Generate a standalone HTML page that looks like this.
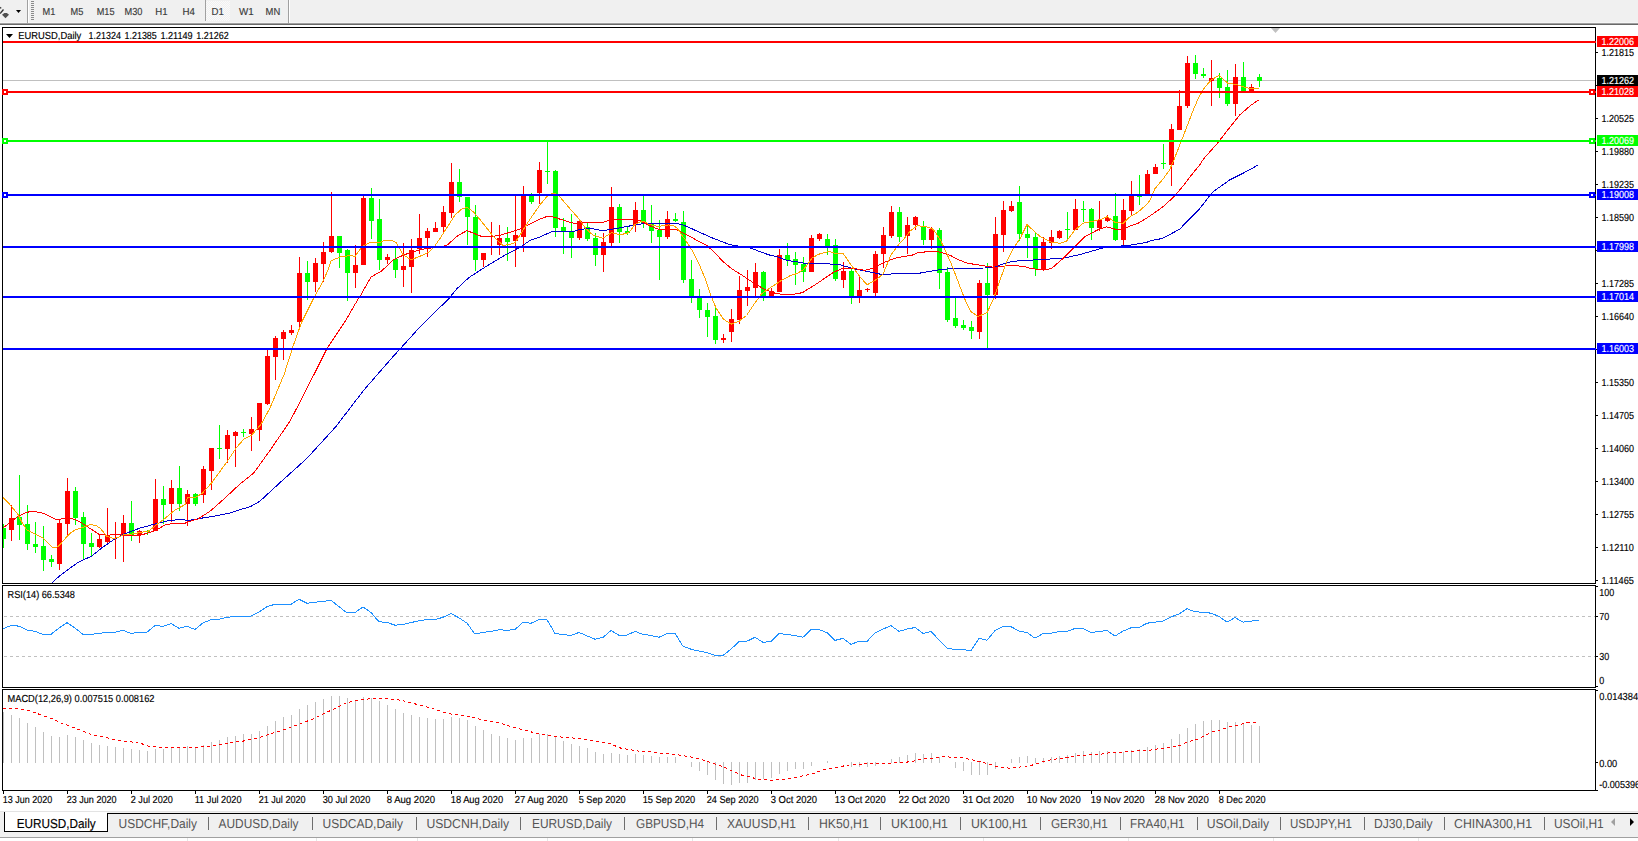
<!DOCTYPE html>
<html><head><meta charset="utf-8"><title>EURUSD,Daily</title>
<style>
html,body{margin:0;padding:0;background:#fff;overflow:hidden;}
svg{display:block;}
text{font-family:"Liberation Sans",sans-serif;text-rendering:geometricPrecision;}
</style></head><body>
<svg width="1638" height="841" viewBox="0 0 1638 841">
<rect width="1638" height="841" fill="#fff"/>
<rect x="0" y="0" width="1638" height="23" fill="#f0f0f0"/>
<rect x="0" y="22" width="1638" height="1" fill="#f6f6f6"/>
<rect x="0" y="23" width="1638" height="1" fill="#a0a0a0"/>
<rect x="0" y="24" width="1638" height="1" fill="#696969"/>
<path d="M0,6.8 L1.8,8 L0,8.8 Z" fill="#333"/>
<path d="M3,9 L4,10 L0.8,13.8 L0,13.8 L0,12.4 Z" fill="#333"/>
<path d="M4.3,13 L6.9,13 L9,14.8 L5.5,18.2 L2,14.8 Z" fill="#505050"/>
<path d="M16,10 L21,10 L18.5,13 Z" fill="#000"/>
<rect x="27" y="0" width="1" height="23" fill="#a0a0a0"/>
<rect x="28" y="0" width="1" height="23" fill="#ffffff"/>
<rect x="31" y="1" width="3" height="1" fill="#8a8a8a"/>
<rect x="31" y="3" width="3" height="1" fill="#8a8a8a"/>
<rect x="31" y="5" width="3" height="1" fill="#8a8a8a"/>
<rect x="31" y="7" width="3" height="1" fill="#8a8a8a"/>
<rect x="31" y="9" width="3" height="1" fill="#8a8a8a"/>
<rect x="31" y="11" width="3" height="1" fill="#8a8a8a"/>
<rect x="31" y="13" width="3" height="1" fill="#8a8a8a"/>
<rect x="31" y="15" width="3" height="1" fill="#8a8a8a"/>
<rect x="31" y="17" width="3" height="1" fill="#8a8a8a"/>
<rect x="31" y="19" width="3" height="1" fill="#8a8a8a"/>
<defs><pattern id="chk" width="2" height="2" patternUnits="userSpaceOnUse"><rect width="2" height="2" fill="#f0f0f0"/><rect width="1" height="1" fill="#fafafa"/><rect x="1" y="1" width="1" height="1" fill="#fafafa"/></pattern></defs>
<rect x="206" y="1" width="24" height="20" fill="url(#chk)"/>
<rect x="205" y="0" width="1" height="21" fill="#a0a0a0"/>
<rect x="288" y="0" width="1" height="23" fill="#a0a0a0"/>
<rect x="289" y="0" width="1" height="23" fill="#ffffff"/>
<text x="42.5" y="15" font-size="10.2" fill="#3a3a3a" stroke="#3a3a3a" stroke-width="0.15" textLength="12.8" lengthAdjust="spacingAndGlyphs">M1</text>
<text x="70.5" y="15" font-size="10.2" fill="#3a3a3a" stroke="#3a3a3a" stroke-width="0.15" textLength="12.8" lengthAdjust="spacingAndGlyphs">M5</text>
<text x="96.7" y="15" font-size="10.2" fill="#3a3a3a" stroke="#3a3a3a" stroke-width="0.15" textLength="17.8" lengthAdjust="spacingAndGlyphs">M15</text>
<text x="124.5" y="15" font-size="10.2" fill="#3a3a3a" stroke="#3a3a3a" stroke-width="0.15" textLength="18" lengthAdjust="spacingAndGlyphs">M30</text>
<text x="155.3" y="15" font-size="10.2" fill="#3a3a3a" stroke="#3a3a3a" stroke-width="0.15" textLength="12.3" lengthAdjust="spacingAndGlyphs">H1</text>
<text x="182.6" y="15" font-size="10.2" fill="#3a3a3a" stroke="#3a3a3a" stroke-width="0.15" textLength="12.4" lengthAdjust="spacingAndGlyphs">H4</text>
<text x="211.5" y="15" font-size="10.2" fill="#3a3a3a" stroke="#3a3a3a" stroke-width="0.15" textLength="12.3" lengthAdjust="spacingAndGlyphs">D1</text>
<text x="239" y="15" font-size="10.2" fill="#3a3a3a" stroke="#3a3a3a" stroke-width="0.15" textLength="14.7" lengthAdjust="spacingAndGlyphs">W1</text>
<text x="265.6" y="15" font-size="10.2" fill="#3a3a3a" stroke="#3a3a3a" stroke-width="0.15" textLength="14.6" lengthAdjust="spacingAndGlyphs">MN</text>
<g fill="none" stroke="#000" stroke-width="1" shape-rendering="crispEdges">
<rect x="2.5" y="27.5" width="1593" height="556"/>
<rect x="2.5" y="585.5" width="1593" height="102"/>
<rect x="2.5" y="689.5" width="1593" height="101"/>
</g>
<defs><clipPath id="cm"><rect x="3" y="28" width="1593" height="555"/></clipPath><clipPath id="cr"><rect x="3" y="586" width="1592" height="101"/></clipPath><clipPath id="cd"><rect x="3" y="690" width="1592" height="100"/></clipPath></defs>
<g clip-path="url(#cm)">
<rect x="3" y="80" width="1592" height="1" fill="#c0c0c0"/>
<g shape-rendering="crispEdges">
<rect x="3" y="524" width="1" height="24" fill="#00ff00"/>
<rect x="1" y="528" width="5" height="11" fill="#00ff00"/>
<rect x="11" y="505" width="1" height="36" fill="#ff0000"/>
<rect x="9" y="518" width="5" height="12" fill="#ff0000"/>
<rect x="19" y="475" width="1" height="65" fill="#00ff00"/>
<rect x="17" y="517" width="5" height="8" fill="#00ff00"/>
<rect x="27" y="505" width="1" height="45" fill="#00ff00"/>
<rect x="25" y="524" width="5" height="20" fill="#00ff00"/>
<rect x="35" y="522" width="1" height="31" fill="#00ff00"/>
<rect x="33" y="544" width="5" height="3" fill="#00ff00"/>
<rect x="43" y="526" width="1" height="45" fill="#00ff00"/>
<rect x="41" y="546" width="5" height="14" fill="#00ff00"/>
<rect x="51" y="555" width="1" height="12" fill="#00ff00"/>
<rect x="49" y="559" width="5" height="3" fill="#00ff00"/>
<rect x="59" y="519" width="1" height="51" fill="#ff0000"/>
<rect x="57" y="523" width="5" height="41" fill="#ff0000"/>
<rect x="67" y="478" width="1" height="58" fill="#ff0000"/>
<rect x="65" y="491" width="5" height="33" fill="#ff0000"/>
<rect x="75" y="487" width="1" height="38" fill="#00ff00"/>
<rect x="73" y="491" width="5" height="27" fill="#00ff00"/>
<rect x="83" y="512" width="1" height="47" fill="#00ff00"/>
<rect x="81" y="517" width="5" height="27" fill="#00ff00"/>
<rect x="91" y="533" width="1" height="23" fill="#00ff00"/>
<rect x="89" y="543" width="5" height="4" fill="#00ff00"/>
<rect x="99" y="534" width="1" height="14" fill="#ff0000"/>
<rect x="97" y="539" width="5" height="8" fill="#ff0000"/>
<rect x="107" y="508" width="1" height="35" fill="#ff0000"/>
<rect x="105" y="535" width="5" height="7" fill="#ff0000"/>
<rect x="115" y="522" width="1" height="37" fill="#ff0000"/>
<rect x="113" y="534" width="5" height="1" fill="#ff0000"/>
<rect x="123" y="515" width="1" height="47" fill="#ff0000"/>
<rect x="121" y="523" width="5" height="12" fill="#ff0000"/>
<rect x="131" y="501" width="1" height="40" fill="#00ff00"/>
<rect x="129" y="523" width="5" height="12" fill="#00ff00"/>
<rect x="139" y="530" width="1" height="13" fill="#ff0000"/>
<rect x="137" y="531" width="5" height="4" fill="#ff0000"/>
<rect x="147" y="530" width="1" height="5" fill="#00ff00"/>
<rect x="145" y="531" width="5" height="1" fill="#00ff00"/>
<rect x="155" y="479" width="1" height="52" fill="#ff0000"/>
<rect x="153" y="499" width="5" height="32" fill="#ff0000"/>
<rect x="163" y="486" width="1" height="38" fill="#00ff00"/>
<rect x="161" y="499" width="5" height="6" fill="#00ff00"/>
<rect x="171" y="480" width="1" height="42" fill="#ff0000"/>
<rect x="169" y="488" width="5" height="16" fill="#ff0000"/>
<rect x="179" y="466" width="1" height="45" fill="#00ff00"/>
<rect x="177" y="488" width="5" height="16" fill="#00ff00"/>
<rect x="187" y="490" width="1" height="36" fill="#ff0000"/>
<rect x="185" y="494" width="5" height="10" fill="#ff0000"/>
<rect x="195" y="493" width="1" height="13" fill="#00ff00"/>
<rect x="193" y="494" width="5" height="10" fill="#00ff00"/>
<rect x="203" y="466" width="1" height="37" fill="#ff0000"/>
<rect x="201" y="469" width="5" height="26" fill="#ff0000"/>
<rect x="211" y="448" width="1" height="42" fill="#ff0000"/>
<rect x="209" y="448" width="5" height="23" fill="#ff0000"/>
<rect x="219" y="425" width="1" height="34" fill="#00ff00"/>
<rect x="217" y="448" width="5" height="1" fill="#00ff00"/>
<rect x="227" y="430" width="1" height="33" fill="#ff0000"/>
<rect x="225" y="435" width="5" height="14" fill="#ff0000"/>
<rect x="235" y="431" width="1" height="36" fill="#ff0000"/>
<rect x="233" y="432" width="5" height="4" fill="#ff0000"/>
<rect x="243" y="429" width="1" height="8" fill="#00ff00"/>
<rect x="241" y="432" width="5" height="1" fill="#00ff00"/>
<rect x="251" y="417" width="1" height="34" fill="#ff0000"/>
<rect x="249" y="429" width="5" height="5" fill="#ff0000"/>
<rect x="259" y="403" width="1" height="38" fill="#ff0000"/>
<rect x="257" y="403" width="5" height="27" fill="#ff0000"/>
<rect x="267" y="350" width="1" height="55" fill="#ff0000"/>
<rect x="265" y="356" width="5" height="48" fill="#ff0000"/>
<rect x="275" y="336" width="1" height="44" fill="#ff0000"/>
<rect x="273" y="338" width="5" height="19" fill="#ff0000"/>
<rect x="283" y="330" width="1" height="30" fill="#ff0000"/>
<rect x="281" y="332" width="5" height="7" fill="#ff0000"/>
<rect x="291" y="325" width="1" height="10" fill="#ff0000"/>
<rect x="289" y="330" width="5" height="3" fill="#ff0000"/>
<rect x="299" y="257" width="1" height="71" fill="#ff0000"/>
<rect x="297" y="273" width="5" height="49" fill="#ff0000"/>
<rect x="307" y="261" width="1" height="39" fill="#00ff00"/>
<rect x="305" y="273" width="5" height="9" fill="#00ff00"/>
<rect x="315" y="258" width="1" height="34" fill="#ff0000"/>
<rect x="313" y="263" width="5" height="19" fill="#ff0000"/>
<rect x="323" y="242" width="1" height="40" fill="#ff0000"/>
<rect x="321" y="252" width="5" height="12" fill="#ff0000"/>
<rect x="331" y="192" width="1" height="61" fill="#ff0000"/>
<rect x="329" y="236" width="5" height="16" fill="#ff0000"/>
<rect x="339" y="236" width="1" height="32" fill="#00ff00"/>
<rect x="337" y="236" width="5" height="17" fill="#00ff00"/>
<rect x="347" y="249" width="1" height="52" fill="#00ff00"/>
<rect x="345" y="250" width="5" height="23" fill="#00ff00"/>
<rect x="355" y="245" width="1" height="43" fill="#ff0000"/>
<rect x="353" y="265" width="5" height="8" fill="#ff0000"/>
<rect x="363" y="196" width="1" height="69" fill="#ff0000"/>
<rect x="361" y="198" width="5" height="67" fill="#ff0000"/>
<rect x="371" y="188" width="1" height="51" fill="#00ff00"/>
<rect x="369" y="198" width="5" height="23" fill="#00ff00"/>
<rect x="379" y="199" width="1" height="71" fill="#00ff00"/>
<rect x="377" y="219" width="5" height="41" fill="#00ff00"/>
<rect x="387" y="254" width="1" height="10" fill="#ff0000"/>
<rect x="385" y="257" width="5" height="3" fill="#ff0000"/>
<rect x="395" y="247" width="1" height="31" fill="#00ff00"/>
<rect x="393" y="259" width="5" height="11" fill="#00ff00"/>
<rect x="403" y="243" width="1" height="44" fill="#ff0000"/>
<rect x="401" y="266" width="5" height="4" fill="#ff0000"/>
<rect x="411" y="239" width="1" height="54" fill="#ff0000"/>
<rect x="409" y="250" width="5" height="17" fill="#ff0000"/>
<rect x="419" y="214" width="1" height="40" fill="#ff0000"/>
<rect x="417" y="238" width="5" height="11" fill="#ff0000"/>
<rect x="427" y="228" width="1" height="29" fill="#ff0000"/>
<rect x="425" y="231" width="5" height="7" fill="#ff0000"/>
<rect x="435" y="222" width="1" height="10" fill="#ff0000"/>
<rect x="433" y="228" width="5" height="4" fill="#ff0000"/>
<rect x="443" y="206" width="1" height="27" fill="#ff0000"/>
<rect x="441" y="212" width="5" height="15" fill="#ff0000"/>
<rect x="451" y="163" width="1" height="55" fill="#ff0000"/>
<rect x="449" y="182" width="5" height="31" fill="#ff0000"/>
<rect x="459" y="169" width="1" height="33" fill="#00ff00"/>
<rect x="457" y="182" width="5" height="15" fill="#00ff00"/>
<rect x="467" y="197" width="1" height="48" fill="#00ff00"/>
<rect x="465" y="197" width="5" height="20" fill="#00ff00"/>
<rect x="475" y="205" width="1" height="66" fill="#00ff00"/>
<rect x="473" y="217" width="5" height="43" fill="#00ff00"/>
<rect x="483" y="253" width="1" height="14" fill="#ff0000"/>
<rect x="481" y="253" width="5" height="7" fill="#ff0000"/>
<rect x="491" y="222" width="1" height="33" fill="#ff0000"/>
<rect x="489" y="236" width="5" height="1" fill="#ff0000"/>
<rect x="499" y="225" width="1" height="30" fill="#ff0000"/>
<rect x="497" y="238" width="5" height="7" fill="#ff0000"/>
<rect x="507" y="227" width="1" height="34" fill="#00ff00"/>
<rect x="505" y="238" width="5" height="4" fill="#00ff00"/>
<rect x="515" y="195" width="1" height="72" fill="#ff0000"/>
<rect x="513" y="235" width="5" height="6" fill="#ff0000"/>
<rect x="523" y="186" width="1" height="66" fill="#ff0000"/>
<rect x="521" y="196" width="5" height="41" fill="#ff0000"/>
<rect x="531" y="193" width="1" height="11" fill="#00ff00"/>
<rect x="529" y="196" width="5" height="6" fill="#00ff00"/>
<rect x="539" y="162" width="1" height="42" fill="#ff0000"/>
<rect x="537" y="170" width="5" height="23" fill="#ff0000"/>
<rect x="547" y="141" width="1" height="43" fill="#00ff00"/>
<rect x="545" y="171" width="5" height="1" fill="#00ff00"/>
<rect x="555" y="170" width="1" height="67" fill="#00ff00"/>
<rect x="553" y="171" width="5" height="57" fill="#00ff00"/>
<rect x="563" y="218" width="1" height="36" fill="#00ff00"/>
<rect x="561" y="227" width="5" height="5" fill="#00ff00"/>
<rect x="571" y="214" width="1" height="44" fill="#00ff00"/>
<rect x="569" y="232" width="5" height="6" fill="#00ff00"/>
<rect x="579" y="219" width="1" height="21" fill="#ff0000"/>
<rect x="577" y="221" width="5" height="17" fill="#ff0000"/>
<rect x="587" y="223" width="1" height="18" fill="#00ff00"/>
<rect x="585" y="227" width="5" height="12" fill="#00ff00"/>
<rect x="595" y="233" width="1" height="33" fill="#00ff00"/>
<rect x="593" y="238" width="5" height="17" fill="#00ff00"/>
<rect x="603" y="233" width="1" height="39" fill="#ff0000"/>
<rect x="601" y="242" width="5" height="13" fill="#ff0000"/>
<rect x="611" y="187" width="1" height="61" fill="#ff0000"/>
<rect x="609" y="207" width="5" height="36" fill="#ff0000"/>
<rect x="619" y="204" width="1" height="39" fill="#00ff00"/>
<rect x="617" y="207" width="5" height="25" fill="#00ff00"/>
<rect x="627" y="226" width="1" height="9" fill="#00ff00"/>
<rect x="625" y="231" width="5" height="2" fill="#00ff00"/>
<rect x="635" y="202" width="1" height="30" fill="#ff0000"/>
<rect x="633" y="210" width="5" height="15" fill="#ff0000"/>
<rect x="643" y="196" width="1" height="32" fill="#00ff00"/>
<rect x="641" y="210" width="5" height="14" fill="#00ff00"/>
<rect x="651" y="205" width="1" height="38" fill="#00ff00"/>
<rect x="649" y="224" width="5" height="7" fill="#00ff00"/>
<rect x="659" y="220" width="1" height="60" fill="#00ff00"/>
<rect x="657" y="230" width="5" height="7" fill="#00ff00"/>
<rect x="667" y="211" width="1" height="28" fill="#ff0000"/>
<rect x="665" y="219" width="5" height="18" fill="#ff0000"/>
<rect x="675" y="213" width="1" height="9" fill="#00ff00"/>
<rect x="673" y="219" width="5" height="2" fill="#00ff00"/>
<rect x="683" y="211" width="1" height="72" fill="#00ff00"/>
<rect x="681" y="222" width="5" height="58" fill="#00ff00"/>
<rect x="691" y="260" width="1" height="43" fill="#00ff00"/>
<rect x="689" y="279" width="5" height="17" fill="#00ff00"/>
<rect x="699" y="289" width="1" height="29" fill="#00ff00"/>
<rect x="697" y="298" width="5" height="12" fill="#00ff00"/>
<rect x="707" y="303" width="1" height="34" fill="#00ff00"/>
<rect x="705" y="310" width="5" height="7" fill="#00ff00"/>
<rect x="715" y="305" width="1" height="39" fill="#00ff00"/>
<rect x="713" y="316" width="5" height="24" fill="#00ff00"/>
<rect x="723" y="334" width="1" height="9" fill="#ff0000"/>
<rect x="721" y="338" width="5" height="2" fill="#ff0000"/>
<rect x="731" y="309" width="1" height="33" fill="#ff0000"/>
<rect x="729" y="319" width="5" height="13" fill="#ff0000"/>
<rect x="739" y="276" width="1" height="48" fill="#ff0000"/>
<rect x="737" y="290" width="5" height="30" fill="#ff0000"/>
<rect x="747" y="270" width="1" height="36" fill="#ff0000"/>
<rect x="745" y="287" width="5" height="4" fill="#ff0000"/>
<rect x="755" y="263" width="1" height="33" fill="#ff0000"/>
<rect x="753" y="272" width="5" height="16" fill="#ff0000"/>
<rect x="763" y="271" width="1" height="30" fill="#00ff00"/>
<rect x="761" y="272" width="5" height="24" fill="#00ff00"/>
<rect x="771" y="288" width="1" height="8" fill="#ff0000"/>
<rect x="769" y="291" width="5" height="5" fill="#ff0000"/>
<rect x="779" y="249" width="1" height="43" fill="#ff0000"/>
<rect x="777" y="255" width="5" height="37" fill="#ff0000"/>
<rect x="787" y="243" width="1" height="23" fill="#00ff00"/>
<rect x="785" y="255" width="5" height="5" fill="#00ff00"/>
<rect x="795" y="252" width="1" height="33" fill="#00ff00"/>
<rect x="793" y="259" width="5" height="6" fill="#00ff00"/>
<rect x="803" y="257" width="1" height="25" fill="#00ff00"/>
<rect x="801" y="264" width="5" height="8" fill="#00ff00"/>
<rect x="811" y="235" width="1" height="37" fill="#ff0000"/>
<rect x="809" y="238" width="5" height="34" fill="#ff0000"/>
<rect x="819" y="233" width="1" height="8" fill="#ff0000"/>
<rect x="817" y="234" width="5" height="5" fill="#ff0000"/>
<rect x="827" y="234" width="1" height="21" fill="#00ff00"/>
<rect x="825" y="239" width="5" height="7" fill="#00ff00"/>
<rect x="835" y="239" width="1" height="42" fill="#00ff00"/>
<rect x="833" y="245" width="5" height="34" fill="#00ff00"/>
<rect x="843" y="262" width="1" height="26" fill="#ff0000"/>
<rect x="841" y="271" width="5" height="9" fill="#ff0000"/>
<rect x="851" y="269" width="1" height="35" fill="#00ff00"/>
<rect x="849" y="271" width="5" height="27" fill="#00ff00"/>
<rect x="859" y="275" width="1" height="28" fill="#ff0000"/>
<rect x="857" y="290" width="5" height="8" fill="#ff0000"/>
<rect x="867" y="288" width="1" height="4" fill="#ff0000"/>
<rect x="865" y="289" width="5" height="1" fill="#ff0000"/>
<rect x="875" y="251" width="1" height="45" fill="#ff0000"/>
<rect x="873" y="254" width="5" height="39" fill="#ff0000"/>
<rect x="883" y="227" width="1" height="41" fill="#ff0000"/>
<rect x="881" y="235" width="5" height="19" fill="#ff0000"/>
<rect x="891" y="206" width="1" height="32" fill="#ff0000"/>
<rect x="889" y="212" width="5" height="24" fill="#ff0000"/>
<rect x="899" y="207" width="1" height="35" fill="#00ff00"/>
<rect x="897" y="212" width="5" height="25" fill="#00ff00"/>
<rect x="907" y="217" width="1" height="37" fill="#ff0000"/>
<rect x="905" y="225" width="5" height="11" fill="#ff0000"/>
<rect x="915" y="216" width="1" height="14" fill="#ff0000"/>
<rect x="913" y="217" width="5" height="8" fill="#ff0000"/>
<rect x="923" y="221" width="1" height="24" fill="#00ff00"/>
<rect x="921" y="227" width="5" height="13" fill="#00ff00"/>
<rect x="931" y="227" width="1" height="22" fill="#ff0000"/>
<rect x="929" y="229" width="5" height="11" fill="#ff0000"/>
<rect x="939" y="228" width="1" height="61" fill="#00ff00"/>
<rect x="937" y="230" width="5" height="43" fill="#00ff00"/>
<rect x="947" y="267" width="1" height="55" fill="#00ff00"/>
<rect x="945" y="272" width="5" height="48" fill="#00ff00"/>
<rect x="955" y="298" width="1" height="30" fill="#00ff00"/>
<rect x="953" y="318" width="5" height="8" fill="#00ff00"/>
<rect x="963" y="320" width="1" height="10" fill="#00ff00"/>
<rect x="961" y="325" width="5" height="3" fill="#00ff00"/>
<rect x="971" y="321" width="1" height="18" fill="#00ff00"/>
<rect x="969" y="327" width="5" height="4" fill="#00ff00"/>
<rect x="979" y="280" width="1" height="59" fill="#ff0000"/>
<rect x="977" y="283" width="5" height="49" fill="#ff0000"/>
<rect x="987" y="263" width="1" height="86" fill="#00ff00"/>
<rect x="985" y="283" width="5" height="12" fill="#00ff00"/>
<rect x="995" y="217" width="1" height="82" fill="#ff0000"/>
<rect x="993" y="234" width="5" height="61" fill="#ff0000"/>
<rect x="1003" y="201" width="1" height="51" fill="#ff0000"/>
<rect x="1001" y="210" width="5" height="25" fill="#ff0000"/>
<rect x="1011" y="201" width="1" height="11" fill="#ff0000"/>
<rect x="1009" y="206" width="5" height="5" fill="#ff0000"/>
<rect x="1019" y="186" width="1" height="55" fill="#00ff00"/>
<rect x="1017" y="202" width="5" height="32" fill="#00ff00"/>
<rect x="1027" y="224" width="1" height="34" fill="#00ff00"/>
<rect x="1025" y="234" width="5" height="4" fill="#00ff00"/>
<rect x="1035" y="232" width="1" height="44" fill="#00ff00"/>
<rect x="1033" y="237" width="5" height="32" fill="#00ff00"/>
<rect x="1043" y="237" width="1" height="34" fill="#ff0000"/>
<rect x="1041" y="242" width="5" height="28" fill="#ff0000"/>
<rect x="1051" y="230" width="1" height="19" fill="#ff0000"/>
<rect x="1049" y="237" width="5" height="6" fill="#ff0000"/>
<rect x="1059" y="230" width="1" height="9" fill="#ff0000"/>
<rect x="1057" y="231" width="5" height="7" fill="#ff0000"/>
<rect x="1067" y="212" width="1" height="29" fill="#00ff00"/>
<rect x="1065" y="229" width="5" height="1" fill="#00ff00"/>
<rect x="1075" y="199" width="1" height="31" fill="#ff0000"/>
<rect x="1073" y="209" width="5" height="21" fill="#ff0000"/>
<rect x="1083" y="201" width="1" height="21" fill="#00ff00"/>
<rect x="1081" y="209" width="5" height="1" fill="#00ff00"/>
<rect x="1091" y="208" width="1" height="32" fill="#00ff00"/>
<rect x="1089" y="209" width="5" height="19" fill="#00ff00"/>
<rect x="1099" y="201" width="1" height="30" fill="#ff0000"/>
<rect x="1097" y="220" width="5" height="8" fill="#ff0000"/>
<rect x="1107" y="215" width="1" height="7" fill="#ff0000"/>
<rect x="1105" y="218" width="5" height="3" fill="#ff0000"/>
<rect x="1115" y="193" width="1" height="48" fill="#00ff00"/>
<rect x="1113" y="216" width="5" height="24" fill="#00ff00"/>
<rect x="1123" y="199" width="1" height="47" fill="#ff0000"/>
<rect x="1121" y="210" width="5" height="30" fill="#ff0000"/>
<rect x="1131" y="181" width="1" height="34" fill="#ff0000"/>
<rect x="1129" y="196" width="5" height="15" fill="#ff0000"/>
<rect x="1139" y="175" width="1" height="30" fill="#00ff00"/>
<rect x="1137" y="196" width="5" height="1" fill="#00ff00"/>
<rect x="1147" y="170" width="1" height="24" fill="#ff0000"/>
<rect x="1145" y="174" width="5" height="20" fill="#ff0000"/>
<rect x="1155" y="164" width="1" height="10" fill="#ff0000"/>
<rect x="1153" y="167" width="5" height="7" fill="#ff0000"/>
<rect x="1163" y="144" width="1" height="25" fill="#00ff00"/>
<rect x="1161" y="163" width="5" height="1" fill="#00ff00"/>
<rect x="1171" y="124" width="1" height="62" fill="#ff0000"/>
<rect x="1169" y="129" width="5" height="36" fill="#ff0000"/>
<rect x="1179" y="90" width="1" height="40" fill="#ff0000"/>
<rect x="1177" y="106" width="5" height="24" fill="#ff0000"/>
<rect x="1187" y="56" width="1" height="52" fill="#ff0000"/>
<rect x="1185" y="63" width="5" height="43" fill="#ff0000"/>
<rect x="1195" y="55" width="1" height="24" fill="#00ff00"/>
<rect x="1193" y="63" width="5" height="11" fill="#00ff00"/>
<rect x="1203" y="68" width="1" height="10" fill="#00ff00"/>
<rect x="1201" y="74" width="5" height="2" fill="#00ff00"/>
<rect x="1211" y="60" width="1" height="46" fill="#ff0000"/>
<rect x="1209" y="78" width="5" height="3" fill="#ff0000"/>
<rect x="1219" y="73" width="1" height="25" fill="#00ff00"/>
<rect x="1217" y="78" width="5" height="10" fill="#00ff00"/>
<rect x="1227" y="70" width="1" height="36" fill="#00ff00"/>
<rect x="1225" y="87" width="5" height="17" fill="#00ff00"/>
<rect x="1235" y="64" width="1" height="52" fill="#ff0000"/>
<rect x="1233" y="77" width="5" height="27" fill="#ff0000"/>
<rect x="1243" y="62" width="1" height="29" fill="#00ff00"/>
<rect x="1241" y="77" width="5" height="14" fill="#00ff00"/>
<rect x="1251" y="84" width="1" height="7" fill="#ff0000"/>
<rect x="1249" y="87" width="5" height="4" fill="#ff0000"/>
<rect x="1259" y="74" width="1" height="13" fill="#00ff00"/>
<rect x="1257" y="77" width="5" height="4" fill="#00ff00"/>
</g>
<g shape-rendering="crispEdges">
<polyline points="45.0,590.0 55.0,580.0 60.0,575.6 69.5,568.5 79.0,561.8 91.4,556.3 102.8,547.1 113.3,540.0 122.8,534.7 132.3,530.9 140.0,528.1 155.0,524.0 170.0,520.3 180.0,519.7 190.0,520.3 200.0,518.4 215.0,516.0 230.0,513.0 242.0,509.0 250.0,506.8 260.0,501.1 278.5,484.0 307.0,458.3 335.6,426.9 364.1,389.8 392.7,357.0 421.2,325.6 437.0,310.0 447.7,300.0 456.6,289.0 469.0,277.5 487.0,265.9 504.9,255.2 520.0,247.2 530.0,240.5 540.0,236.9 552.0,231.6 560.0,231.7 574.3,231.1 581.4,229.2 591.4,228.5 602.8,230.7 614.2,228.8 625.6,226.8 638.5,224.2 648.5,223.5 677.0,223.5 684.2,225.4 691.3,228.5 700.0,232.5 712.0,237.8 720.0,240.9 730.0,244.7 740.0,246.3 750.0,247.8 760.0,251.7 770.0,255.2 776.0,256.3 787.0,260.4 797.0,261.8 805.0,263.4 815.0,263.7 830.0,264.0 840.0,264.6 843.0,265.6 855.0,269.1 870.0,272.0 880.0,274.1 890.0,274.1 904.0,273.1 915.0,274.0 925.0,272.2 935.0,270.4 945.0,269.1 955.0,268.6 968.0,268.1 985.0,268.0 995.0,267.0 1005.0,263.3 1013.0,261.3 1025.0,260.5 1030.0,260.2 1063.3,258.2 1080.0,254.5 1105.0,247.4 1130.0,245.2 1146.5,242.4 1150.0,240.9 1162.5,238.4 1179.7,229.2 1188.9,219.4 1200.0,208.3 1212.4,192.2 1229.9,179.8 1244.8,172.3 1258.6,164.8" fill="none" stroke="#0000cd" stroke-width="1"/>
<polyline points="2.0,528.9 10.0,522.4 18.0,516.5 27.0,512.1 35.0,511.6 43.0,513.2 50.0,516.5 55.0,519.1 60.0,519.5 63.8,518.1 69.5,518.3 75.2,519.5 80.9,522.4 86.6,526.2 92.4,530.0 99.0,534.3 103.8,534.3 107.6,536.2 111.4,534.4 119.0,534.4 122.8,535.4 140.0,535.4 155.0,530.8 165.0,524.9 175.0,523.2 185.0,523.2 195.0,519.7 196.6,519.8 210.0,511.3 225.0,498.0 240.3,483.7 253.6,473.2 270.0,450.4 290.0,421.2 307.0,388.4 327.0,348.5 341.3,327.0 346.0,320.0 358.4,298.5 360.0,296.5 371.0,277.0 382.0,270.7 392.0,260.9 395.0,258.9 405.0,254.5 415.0,251.2 425.0,248.8 436.0,247.3 442.0,246.4 447.0,245.2 458.0,235.5 467.0,230.6 475.0,233.8 483.0,237.0 490.0,236.8 500.0,235.2 510.0,232.3 520.0,229.0 530.0,224.1 540.0,219.1 548.0,216.1 555.0,217.3 560.0,219.2 574.3,223.5 584.3,222.5 602.8,222.5 611.4,219.2 631.4,219.2 640.0,220.7 651.3,226.4 660.0,229.9 668.5,229.2 677.0,229.7 682.7,232.8 688.4,235.6 700.0,242.1 706.6,245.2 716.0,253.7 721.8,260.5 731.3,268.5 742.7,275.6 754.1,283.2 765.5,289.9 776.0,293.5 789.0,295.0 802.3,292.7 817.6,283.2 832.8,272.7 842.3,268.4 853.7,268.4 865.1,270.3 873.7,268.0 884.1,262.3 895.5,258.1 904.0,256.5 912.0,255.2 918.0,252.6 928.0,251.7 935.0,251.3 942.0,252.6 950.0,255.2 958.0,259.7 968.0,263.3 985.0,266.0 995.0,267.4 1005.0,266.0 1013.0,265.4 1025.0,266.6 1030.0,268.5 1043.3,269.9 1051.6,268.5 1063.3,258.2 1076.6,244.9 1085.0,236.6 1098.3,229.6 1106.6,226.9 1114.9,229.1 1123.2,229.1 1130.0,226.0 1137.9,223.4 1149.6,216.2 1162.7,207.0 1170.6,199.8 1175.8,194.6 1183.6,185.4 1191.5,175.0 1200.0,164.5 1203.3,159.2 1217.5,143.2 1230.0,127.1 1239.8,114.9 1249.8,106.1 1258.6,99.9" fill="none" stroke="#ff0000" stroke-width="1"/>
<polyline points="2.0,496.2 10.0,504.7 18.0,514.5 22.0,522.4 27.0,530.2 35.0,534.1 43.0,538.0 48.0,543.3 52.0,547.2 57.0,547.2 60.0,544.7 64.8,539.0 69.5,533.8 74.3,530.4 79.0,528.5 83.8,527.1 88.5,525.2 91.4,524.5 96.2,525.7 100.0,528.1 103.8,532.4 106.6,536.2 110.4,537.6 114.2,538.5 119.0,537.1 123.7,534.7 128.5,534.3 134.2,533.8 140.0,532.4 148.0,531.4 155.0,526.0 163.0,520.0 175.0,510.0 185.0,504.6 187.5,497.4 194.8,498.0 202.3,493.2 211.8,482.7 227.0,461.8 236.5,447.5 244.0,439.0 251.7,435.2 261.3,423.8 270.0,408.0 284.2,374.2 292.8,347.0 301.4,322.8 312.8,300.0 323.6,280.0 328.0,270.0 331.0,260.9 340.0,257.0 350.0,255.5 355.0,256.4 362.0,246.6 370.0,242.7 378.0,243.0 385.0,240.4 391.0,240.2 396.0,242.3 403.0,254.5 411.0,259.8 420.0,256.2 428.0,252.7 434.0,247.3 440.0,238.4 448.0,226.0 455.0,215.0 462.0,208.8 467.0,207.4 473.0,211.5 480.0,219.5 487.0,228.4 492.0,234.7 498.0,240.9 503.0,245.3 510.0,244.5 515.0,242.7 520.0,235.0 530.0,219.1 540.0,204.9 547.0,196.3 553.0,193.3 558.0,194.5 560.0,197.1 568.6,207.1 578.6,218.5 585.7,228.5 592.8,234.9 602.8,238.2 611.4,232.8 615.0,233.3 618.6,234.4 622.7,234.2 627.5,233.0 629.9,231.5 632.3,228.0 634.6,224.7 637.6,223.2 640.6,221.7 643.0,221.1 645.9,222.3 648.3,224.1 653.1,225.3 656.6,226.2 660.2,226.5 662.6,225.3 668.5,225.0 673.3,225.6 676.3,227.4 679.2,230.9 682.2,235.7 685.0,239.3 692.7,251.3 700.0,266.3 704.7,277.5 711.3,296.5 716.0,307.9 723.7,319.4 731.3,324.1 739.0,321.3 746.5,315.5 754.1,304.1 761.7,293.7 771.3,287.0 776.0,284.0 781.0,280.6 790.0,275.8 797.0,273.5 803.0,269.9 808.0,264.0 812.0,258.0 818.0,254.5 825.0,252.3 830.0,251.5 835.0,253.3 843.0,253.2 851.0,264.9 859.0,275.6 867.0,284.8 875.0,280.5 883.0,274.1 891.0,254.9 899.0,244.2 903.0,240.1 910.0,231.2 917.0,225.8 925.0,226.4 932.0,228.5 935.3,232.1 940.7,240.6 946.0,252.0 951.4,264.2 956.0,276.0 962.0,292.0 966.0,302.0 970.6,311.3 978.1,316.6 987.0,312.5 993.0,300.3 1000.0,280.1 1007.0,260.9 1013.0,248.8 1020.0,238.7 1027.0,224.5 1030.0,227.4 1040.0,236.5 1051.6,242.4 1060.0,243.2 1066.6,241.2 1075.0,229.9 1083.3,223.2 1093.3,221.2 1101.6,219.1 1107.4,216.6 1114.9,222.4 1123.2,223.2 1130.0,216.8 1137.9,212.2 1144.4,206.4 1149.6,201.1 1154.9,188.7 1162.7,179.5 1169.3,170.4 1174.2,159.2 1181.9,139.6 1187.8,124.2 1193.8,108.7 1198.5,98.0 1202.7,90.3 1206.8,85.0 1211.0,80.2 1215.1,77.6 1219.3,75.4 1223.5,79.6 1228.2,83.5 1236.1,84.4 1244.8,87.4 1251.0,88.5 1259.0,88.0" fill="none" stroke="#ffa500" stroke-width="1"/>
</g>
<rect x="3" y="41" width="1593" height="2" fill="#ff0000"/>
<rect x="3" y="91" width="1593" height="2" fill="#ff0000"/>
<rect x="3" y="140" width="1593" height="2" fill="#00ff00"/>
<rect x="3" y="194" width="1593" height="2" fill="#0000ff"/>
<rect x="3" y="246" width="1593" height="2" fill="#0000ff"/>
<rect x="3" y="296" width="1593" height="2" fill="#0000ff"/>
<rect x="3" y="348" width="1593" height="2" fill="#0000ff"/>
<path d="M1271,28 L1280,28 L1275.5,33 Z" fill="#c0c0c0"/>
</g>
<rect x="2" y="89" width="6" height="6" fill="#ff0000"/>
<rect x="4" y="91" width="2" height="2" fill="#ffffff"/>
<rect x="1589" y="89" width="6" height="6" fill="#ff0000"/>
<rect x="1591" y="91" width="2" height="2" fill="#ffffff"/>
<rect x="2" y="138" width="6" height="6" fill="#00ff00"/>
<rect x="4" y="140" width="2" height="2" fill="#ffffff"/>
<rect x="1589" y="138" width="6" height="6" fill="#00ff00"/>
<rect x="1591" y="140" width="2" height="2" fill="#ffffff"/>
<rect x="2" y="192" width="6" height="6" fill="#0000ff"/>
<rect x="4" y="194" width="2" height="2" fill="#ffffff"/>
<rect x="1589" y="192" width="6" height="6" fill="#0000ff"/>
<rect x="1591" y="194" width="2" height="2" fill="#ffffff"/>
<path d="M6,34 L13,34 L9.5,38 Z" fill="#000"/>
<text x="18.3" y="39" font-size="10.2" fill="#000" stroke="#000" stroke-width="0.15" textLength="63" lengthAdjust="spacingAndGlyphs">EURUSD,Daily</text>
<text x="88.6" y="39" font-size="10.2" fill="#000" stroke="#000" stroke-width="0.15" textLength="32.3" lengthAdjust="spacingAndGlyphs">1.21324</text>
<text x="124.5" y="39" font-size="10.2" fill="#000" stroke="#000" stroke-width="0.15" textLength="32.3" lengthAdjust="spacingAndGlyphs">1.21385</text>
<text x="160.4" y="39" font-size="10.2" fill="#000" stroke="#000" stroke-width="0.15" textLength="32.3" lengthAdjust="spacingAndGlyphs">1.21149</text>
<text x="196.3" y="39" font-size="10.2" fill="#000" stroke="#000" stroke-width="0.15" textLength="32.3" lengthAdjust="spacingAndGlyphs">1.21262</text>
<rect x="1596" y="52" width="2" height="1" fill="#000"/>
<text x="1601.4" y="56" font-size="10.2" fill="#000" stroke="#000" stroke-width="0.15" textLength="32.5" lengthAdjust="spacingAndGlyphs">1.21815</text>
<rect x="1596" y="85" width="2" height="1" fill="#000"/>
<rect x="1596" y="118" width="2" height="1" fill="#000"/>
<text x="1601.4" y="122" font-size="10.2" fill="#000" stroke="#000" stroke-width="0.15" textLength="32.5" lengthAdjust="spacingAndGlyphs">1.20525</text>
<rect x="1596" y="151" width="2" height="1" fill="#000"/>
<text x="1601.4" y="155" font-size="10.2" fill="#000" stroke="#000" stroke-width="0.15" textLength="32.5" lengthAdjust="spacingAndGlyphs">1.19880</text>
<rect x="1596" y="184" width="2" height="1" fill="#000"/>
<text x="1601.4" y="188" font-size="10.2" fill="#000" stroke="#000" stroke-width="0.15" textLength="32.5" lengthAdjust="spacingAndGlyphs">1.19235</text>
<rect x="1596" y="217" width="2" height="1" fill="#000"/>
<text x="1601.4" y="221" font-size="10.2" fill="#000" stroke="#000" stroke-width="0.15" textLength="32.5" lengthAdjust="spacingAndGlyphs">1.18590</text>
<rect x="1596" y="250" width="2" height="1" fill="#000"/>
<rect x="1596" y="283" width="2" height="1" fill="#000"/>
<text x="1601.4" y="287" font-size="10.2" fill="#000" stroke="#000" stroke-width="0.15" textLength="32.5" lengthAdjust="spacingAndGlyphs">1.17285</text>
<rect x="1596" y="316" width="2" height="1" fill="#000"/>
<text x="1601.4" y="320" font-size="10.2" fill="#000" stroke="#000" stroke-width="0.15" textLength="32.5" lengthAdjust="spacingAndGlyphs">1.16640</text>
<rect x="1596" y="349" width="2" height="1" fill="#000"/>
<rect x="1596" y="382" width="2" height="1" fill="#000"/>
<text x="1601.4" y="386" font-size="10.2" fill="#000" stroke="#000" stroke-width="0.15" textLength="32.5" lengthAdjust="spacingAndGlyphs">1.15350</text>
<rect x="1596" y="415" width="2" height="1" fill="#000"/>
<text x="1601.4" y="419" font-size="10.2" fill="#000" stroke="#000" stroke-width="0.15" textLength="32.5" lengthAdjust="spacingAndGlyphs">1.14705</text>
<rect x="1596" y="448" width="2" height="1" fill="#000"/>
<text x="1601.4" y="452" font-size="10.2" fill="#000" stroke="#000" stroke-width="0.15" textLength="32.5" lengthAdjust="spacingAndGlyphs">1.14060</text>
<rect x="1596" y="481" width="2" height="1" fill="#000"/>
<text x="1601.4" y="485" font-size="10.2" fill="#000" stroke="#000" stroke-width="0.15" textLength="32.5" lengthAdjust="spacingAndGlyphs">1.13400</text>
<rect x="1596" y="514" width="2" height="1" fill="#000"/>
<text x="1601.4" y="518" font-size="10.2" fill="#000" stroke="#000" stroke-width="0.15" textLength="32.5" lengthAdjust="spacingAndGlyphs">1.12755</text>
<rect x="1596" y="547" width="2" height="1" fill="#000"/>
<text x="1601.4" y="551" font-size="10.2" fill="#000" stroke="#000" stroke-width="0.15" textLength="32.5" lengthAdjust="spacingAndGlyphs">1.12110</text>
<rect x="1596" y="580" width="2" height="1" fill="#000"/>
<text x="1601.4" y="584" font-size="10.2" fill="#000" stroke="#000" stroke-width="0.15" textLength="32.5" lengthAdjust="spacingAndGlyphs">1.11465</text>
<rect x="1597" y="36" width="41" height="11" fill="#ff0000"/>
<text x="1601.4" y="45" font-size="10.2" fill="#fff" stroke="#fff" stroke-width="0.15" textLength="32.5" lengthAdjust="spacingAndGlyphs">1.22006</text>
<rect x="1597" y="75" width="41" height="11" fill="#000000"/>
<text x="1601.4" y="84" font-size="10.2" fill="#fff" stroke="#fff" stroke-width="0.15" textLength="32.5" lengthAdjust="spacingAndGlyphs">1.21262</text>
<rect x="1597" y="86" width="41" height="11" fill="#ff0000"/>
<text x="1601.4" y="95" font-size="10.2" fill="#fff" stroke="#fff" stroke-width="0.15" textLength="32.5" lengthAdjust="spacingAndGlyphs">1.21028</text>
<rect x="1597" y="135" width="41" height="11" fill="#00ff00"/>
<text x="1601.4" y="144" font-size="10.2" fill="#fff" stroke="#fff" stroke-width="0.15" textLength="32.5" lengthAdjust="spacingAndGlyphs">1.20069</text>
<rect x="1597" y="189" width="41" height="11" fill="#0000ff"/>
<text x="1601.4" y="198" font-size="10.2" fill="#fff" stroke="#fff" stroke-width="0.15" textLength="32.5" lengthAdjust="spacingAndGlyphs">1.19008</text>
<rect x="1597" y="241" width="41" height="11" fill="#0000ff"/>
<text x="1601.4" y="250" font-size="10.2" fill="#fff" stroke="#fff" stroke-width="0.15" textLength="32.5" lengthAdjust="spacingAndGlyphs">1.17998</text>
<rect x="1597" y="291" width="41" height="11" fill="#0000ff"/>
<text x="1601.4" y="300" font-size="10.2" fill="#fff" stroke="#fff" stroke-width="0.15" textLength="32.5" lengthAdjust="spacingAndGlyphs">1.17014</text>
<rect x="1597" y="343" width="41" height="11" fill="#0000ff"/>
<text x="1601.4" y="352" font-size="10.2" fill="#fff" stroke="#fff" stroke-width="0.15" textLength="32.5" lengthAdjust="spacingAndGlyphs">1.16003</text>
<text x="7.5" y="598" font-size="10.2" fill="#000" stroke="#000" stroke-width="0.15" textLength="67.5" lengthAdjust="spacingAndGlyphs">RSI(14) 66.5348</text>
<g clip-path="url(#cr)">
<line x1="4" y1="616.5" x2="1595" y2="616.5" stroke="#c0c0c0" stroke-dasharray="3,3"/>
<line x1="4" y1="656.5" x2="1595" y2="656.5" stroke="#c0c0c0" stroke-dasharray="3,3"/>
<polyline points="3.0,628.7 11.0,625.6 19.0,626.1 27.0,630.0 35.0,631.4 43.0,634.3 51.0,634.3 59.0,628.1 67.0,622.6 75.0,628.1 83.0,634.3 91.0,634.3 99.0,633.4 107.0,632.2 115.0,632.2 123.0,630.4 131.0,633.4 139.0,632.2 147.0,632.2 155.0,625.6 163.0,626.3 171.0,623.6 179.0,628.3 187.0,626.3 195.0,629.5 203.0,622.8 211.0,619.7 219.0,619.3 227.0,617.3 235.0,616.4 243.0,616.4 251.0,616.0 259.0,612.1 267.0,606.6 275.0,604.3 283.0,604.3 291.0,604.3 299.0,599.2 307.0,603.3 315.0,602.3 323.0,601.3 331.0,600.4 339.0,606.6 347.0,613.0 355.0,612.5 363.0,607.0 371.0,612.5 379.0,621.8 387.0,622.4 395.0,625.2 403.0,624.4 411.0,622.6 419.0,620.7 427.0,619.5 435.0,619.5 443.0,617.3 451.0,613.4 459.0,617.9 467.0,623.2 475.0,634.1 483.0,632.4 491.0,631.4 499.0,629.7 507.0,630.4 515.0,629.5 523.0,622.4 531.0,623.2 539.0,619.7 547.0,619.7 555.0,633.4 563.0,634.5 571.0,635.5 579.0,632.4 587.0,635.9 595.0,639.2 603.0,637.3 611.0,630.6 619.0,635.3 627.0,635.1 635.0,631.4 643.0,634.3 651.0,635.5 659.0,637.3 667.0,633.4 675.0,633.4 683.0,646.3 691.0,649.2 699.0,651.1 707.0,652.5 715.0,655.4 723.0,655.4 731.0,649.2 739.0,641.6 747.0,641.2 755.0,637.3 763.0,642.4 771.0,641.4 779.0,633.4 787.0,634.5 795.0,635.5 803.0,637.3 811.0,629.5 819.0,629.7 827.0,632.6 835.0,640.4 843.0,638.4 851.0,644.3 859.0,641.4 867.0,641.4 875.0,633.0 883.0,629.1 891.0,625.6 899.0,631.4 907.0,629.1 915.0,627.5 923.0,633.4 931.0,631.4 939.0,639.9 947.0,648.1 955.0,649.6 963.0,649.6 971.0,650.6 979.0,638.4 987.0,640.2 995.0,630.5 1003.0,626.7 1011.0,626.7 1019.0,631.1 1027.0,632.5 1035.0,638.2 1043.0,633.6 1051.0,633.2 1059.0,631.5 1067.0,631.5 1075.0,628.4 1083.0,628.4 1091.0,632.5 1099.0,631.5 1107.0,630.5 1115.0,636.1 1123.0,631.1 1131.0,627.8 1139.0,627.4 1147.0,623.2 1155.0,622.2 1163.0,621.1 1171.0,617.0 1179.0,613.9 1187.0,608.7 1195.0,611.8 1203.0,612.2 1211.0,613.2 1219.0,616.4 1227.0,622.2 1235.0,617.6 1243.0,622.2 1251.0,621.1 1259.0,620.5" fill="none" stroke="#1e90ff" stroke-width="1" shape-rendering="crispEdges"/>
</g>
<rect x="1596" y="586" width="2" height="1" fill="#000"/>
<rect x="1596" y="616" width="2" height="1" fill="#000"/>
<rect x="1596" y="656" width="2" height="1" fill="#000"/>
<rect x="1596" y="686" width="2" height="1" fill="#000"/>
<text x="1599.2" y="596" font-size="10.2" fill="#000" stroke="#000" stroke-width="0.15" textLength="15" lengthAdjust="spacingAndGlyphs">100</text>
<text x="1599.2" y="619.7" font-size="10.2" fill="#000" stroke="#000" stroke-width="0.15" textLength="10" lengthAdjust="spacingAndGlyphs">70</text>
<text x="1599.2" y="659.6" font-size="10.2" fill="#000" stroke="#000" stroke-width="0.15" textLength="10" lengthAdjust="spacingAndGlyphs">30</text>
<text x="1599.2" y="684" font-size="10.2" fill="#000" stroke="#000" stroke-width="0.15" textLength="5" lengthAdjust="spacingAndGlyphs">0</text>
<text x="7.5" y="702" font-size="10.2" fill="#000" stroke="#000" stroke-width="0.15" textLength="147" lengthAdjust="spacingAndGlyphs">MACD(12,26,9) 0.007515 0.008162</text>
<g clip-path="url(#cd)" shape-rendering="crispEdges">
<rect x="3" y="712" width="1" height="51" fill="#c0c0c0"/>
<rect x="11" y="715" width="1" height="48" fill="#c0c0c0"/>
<rect x="19" y="718" width="1" height="45" fill="#c0c0c0"/>
<rect x="27" y="723" width="1" height="40" fill="#c0c0c0"/>
<rect x="35" y="727" width="1" height="36" fill="#c0c0c0"/>
<rect x="43" y="732" width="1" height="31" fill="#c0c0c0"/>
<rect x="51" y="736" width="1" height="27" fill="#c0c0c0"/>
<rect x="59" y="737" width="1" height="26" fill="#c0c0c0"/>
<rect x="67" y="735" width="1" height="28" fill="#c0c0c0"/>
<rect x="75" y="737" width="1" height="26" fill="#c0c0c0"/>
<rect x="83" y="740" width="1" height="23" fill="#c0c0c0"/>
<rect x="91" y="743" width="1" height="20" fill="#c0c0c0"/>
<rect x="99" y="745" width="1" height="18" fill="#c0c0c0"/>
<rect x="107" y="746" width="1" height="17" fill="#c0c0c0"/>
<rect x="115" y="747" width="1" height="16" fill="#c0c0c0"/>
<rect x="123" y="748" width="1" height="15" fill="#c0c0c0"/>
<rect x="131" y="749" width="1" height="14" fill="#c0c0c0"/>
<rect x="139" y="750" width="1" height="13" fill="#c0c0c0"/>
<rect x="147" y="751" width="1" height="12" fill="#c0c0c0"/>
<rect x="155" y="749" width="1" height="14" fill="#c0c0c0"/>
<rect x="163" y="749" width="1" height="14" fill="#c0c0c0"/>
<rect x="171" y="748" width="1" height="15" fill="#c0c0c0"/>
<rect x="179" y="748" width="1" height="15" fill="#c0c0c0"/>
<rect x="187" y="746" width="1" height="17" fill="#c0c0c0"/>
<rect x="195" y="747" width="1" height="16" fill="#c0c0c0"/>
<rect x="203" y="745" width="1" height="18" fill="#c0c0c0"/>
<rect x="211" y="742" width="1" height="21" fill="#c0c0c0"/>
<rect x="219" y="740" width="1" height="23" fill="#c0c0c0"/>
<rect x="227" y="737" width="1" height="26" fill="#c0c0c0"/>
<rect x="235" y="736" width="1" height="27" fill="#c0c0c0"/>
<rect x="243" y="734" width="1" height="29" fill="#c0c0c0"/>
<rect x="251" y="734" width="1" height="29" fill="#c0c0c0"/>
<rect x="259" y="731" width="1" height="32" fill="#c0c0c0"/>
<rect x="267" y="726" width="1" height="37" fill="#c0c0c0"/>
<rect x="275" y="721" width="1" height="42" fill="#c0c0c0"/>
<rect x="283" y="717" width="1" height="46" fill="#c0c0c0"/>
<rect x="291" y="715" width="1" height="48" fill="#c0c0c0"/>
<rect x="299" y="709" width="1" height="54" fill="#c0c0c0"/>
<rect x="307" y="705" width="1" height="58" fill="#c0c0c0"/>
<rect x="315" y="702" width="1" height="61" fill="#c0c0c0"/>
<rect x="323" y="699" width="1" height="64" fill="#c0c0c0"/>
<rect x="331" y="696" width="1" height="67" fill="#c0c0c0"/>
<rect x="339" y="696" width="1" height="67" fill="#c0c0c0"/>
<rect x="347" y="698" width="1" height="65" fill="#c0c0c0"/>
<rect x="355" y="700" width="1" height="63" fill="#c0c0c0"/>
<rect x="363" y="697" width="1" height="66" fill="#c0c0c0"/>
<rect x="371" y="698" width="1" height="65" fill="#c0c0c0"/>
<rect x="379" y="701" width="1" height="62" fill="#c0c0c0"/>
<rect x="387" y="705" width="1" height="58" fill="#c0c0c0"/>
<rect x="395" y="709" width="1" height="54" fill="#c0c0c0"/>
<rect x="403" y="713" width="1" height="50" fill="#c0c0c0"/>
<rect x="411" y="715" width="1" height="48" fill="#c0c0c0"/>
<rect x="419" y="717" width="1" height="46" fill="#c0c0c0"/>
<rect x="427" y="718" width="1" height="45" fill="#c0c0c0"/>
<rect x="435" y="719" width="1" height="44" fill="#c0c0c0"/>
<rect x="443" y="719" width="1" height="44" fill="#c0c0c0"/>
<rect x="451" y="717" width="1" height="46" fill="#c0c0c0"/>
<rect x="459" y="718" width="1" height="45" fill="#c0c0c0"/>
<rect x="467" y="720" width="1" height="43" fill="#c0c0c0"/>
<rect x="475" y="726" width="1" height="37" fill="#c0c0c0"/>
<rect x="483" y="730" width="1" height="33" fill="#c0c0c0"/>
<rect x="491" y="734" width="1" height="29" fill="#c0c0c0"/>
<rect x="499" y="736" width="1" height="27" fill="#c0c0c0"/>
<rect x="507" y="738" width="1" height="25" fill="#c0c0c0"/>
<rect x="515" y="740" width="1" height="23" fill="#c0c0c0"/>
<rect x="523" y="738" width="1" height="25" fill="#c0c0c0"/>
<rect x="531" y="738" width="1" height="25" fill="#c0c0c0"/>
<rect x="539" y="734" width="1" height="29" fill="#c0c0c0"/>
<rect x="547" y="734" width="1" height="29" fill="#c0c0c0"/>
<rect x="555" y="737" width="1" height="26" fill="#c0c0c0"/>
<rect x="563" y="741" width="1" height="22" fill="#c0c0c0"/>
<rect x="571" y="744" width="1" height="19" fill="#c0c0c0"/>
<rect x="579" y="746" width="1" height="17" fill="#c0c0c0"/>
<rect x="587" y="748" width="1" height="15" fill="#c0c0c0"/>
<rect x="595" y="752" width="1" height="11" fill="#c0c0c0"/>
<rect x="603" y="754" width="1" height="9" fill="#c0c0c0"/>
<rect x="611" y="753" width="1" height="10" fill="#c0c0c0"/>
<rect x="619" y="754" width="1" height="9" fill="#c0c0c0"/>
<rect x="627" y="755" width="1" height="8" fill="#c0c0c0"/>
<rect x="635" y="754" width="1" height="9" fill="#c0c0c0"/>
<rect x="643" y="755" width="1" height="8" fill="#c0c0c0"/>
<rect x="651" y="756" width="1" height="7" fill="#c0c0c0"/>
<rect x="659" y="757" width="1" height="6" fill="#c0c0c0"/>
<rect x="667" y="757" width="1" height="6" fill="#c0c0c0"/>
<rect x="675" y="757" width="1" height="6" fill="#c0c0c0"/>
<rect x="691" y="762" width="1" height="5" fill="#c0c0c0"/>
<rect x="699" y="762" width="1" height="9" fill="#c0c0c0"/>
<rect x="707" y="762" width="1" height="13" fill="#c0c0c0"/>
<rect x="715" y="762" width="1" height="18" fill="#c0c0c0"/>
<rect x="723" y="762" width="1" height="22" fill="#c0c0c0"/>
<rect x="731" y="762" width="1" height="23" fill="#c0c0c0"/>
<rect x="739" y="762" width="1" height="21" fill="#c0c0c0"/>
<rect x="747" y="762" width="1" height="21" fill="#c0c0c0"/>
<rect x="755" y="762" width="1" height="18" fill="#c0c0c0"/>
<rect x="763" y="762" width="1" height="17" fill="#c0c0c0"/>
<rect x="771" y="762" width="1" height="16" fill="#c0c0c0"/>
<rect x="779" y="762" width="1" height="12" fill="#c0c0c0"/>
<rect x="787" y="762" width="1" height="9" fill="#c0c0c0"/>
<rect x="795" y="762" width="1" height="7" fill="#c0c0c0"/>
<rect x="803" y="762" width="1" height="7" fill="#c0c0c0"/>
<rect x="811" y="762" width="1" height="4" fill="#c0c0c0"/>
<rect x="827" y="761" width="1" height="2" fill="#c0c0c0"/>
<rect x="851" y="762" width="1" height="5" fill="#c0c0c0"/>
<rect x="859" y="762" width="1" height="5" fill="#c0c0c0"/>
<rect x="867" y="762" width="1" height="5" fill="#c0c0c0"/>
<rect x="875" y="762" width="1" height="4" fill="#c0c0c0"/>
<rect x="891" y="759" width="1" height="4" fill="#c0c0c0"/>
<rect x="899" y="757" width="1" height="6" fill="#c0c0c0"/>
<rect x="907" y="755" width="1" height="8" fill="#c0c0c0"/>
<rect x="915" y="753" width="1" height="10" fill="#c0c0c0"/>
<rect x="923" y="754" width="1" height="9" fill="#c0c0c0"/>
<rect x="931" y="753" width="1" height="10" fill="#c0c0c0"/>
<rect x="939" y="757" width="1" height="6" fill="#c0c0c0"/>
<rect x="955" y="762" width="1" height="6" fill="#c0c0c0"/>
<rect x="963" y="762" width="1" height="9" fill="#c0c0c0"/>
<rect x="971" y="762" width="1" height="13" fill="#c0c0c0"/>
<rect x="979" y="762" width="1" height="13" fill="#c0c0c0"/>
<rect x="987" y="762" width="1" height="13" fill="#c0c0c0"/>
<rect x="995" y="762" width="1" height="7" fill="#c0c0c0"/>
<rect x="1011" y="759" width="1" height="4" fill="#c0c0c0"/>
<rect x="1019" y="757" width="1" height="6" fill="#c0c0c0"/>
<rect x="1027" y="756" width="1" height="7" fill="#c0c0c0"/>
<rect x="1035" y="758" width="1" height="5" fill="#c0c0c0"/>
<rect x="1043" y="758" width="1" height="5" fill="#c0c0c0"/>
<rect x="1051" y="757" width="1" height="6" fill="#c0c0c0"/>
<rect x="1059" y="756" width="1" height="7" fill="#c0c0c0"/>
<rect x="1067" y="755" width="1" height="8" fill="#c0c0c0"/>
<rect x="1075" y="753" width="1" height="10" fill="#c0c0c0"/>
<rect x="1083" y="751" width="1" height="12" fill="#c0c0c0"/>
<rect x="1091" y="752" width="1" height="11" fill="#c0c0c0"/>
<rect x="1099" y="751" width="1" height="12" fill="#c0c0c0"/>
<rect x="1107" y="751" width="1" height="12" fill="#c0c0c0"/>
<rect x="1115" y="752" width="1" height="11" fill="#c0c0c0"/>
<rect x="1123" y="752" width="1" height="11" fill="#c0c0c0"/>
<rect x="1131" y="750" width="1" height="13" fill="#c0c0c0"/>
<rect x="1139" y="749" width="1" height="14" fill="#c0c0c0"/>
<rect x="1147" y="747" width="1" height="16" fill="#c0c0c0"/>
<rect x="1155" y="745" width="1" height="18" fill="#c0c0c0"/>
<rect x="1163" y="743" width="1" height="20" fill="#c0c0c0"/>
<rect x="1171" y="739" width="1" height="24" fill="#c0c0c0"/>
<rect x="1179" y="734" width="1" height="29" fill="#c0c0c0"/>
<rect x="1187" y="728" width="1" height="35" fill="#c0c0c0"/>
<rect x="1195" y="724" width="1" height="39" fill="#c0c0c0"/>
<rect x="1203" y="721" width="1" height="42" fill="#c0c0c0"/>
<rect x="1211" y="720" width="1" height="43" fill="#c0c0c0"/>
<rect x="1219" y="720" width="1" height="43" fill="#c0c0c0"/>
<rect x="1227" y="722" width="1" height="41" fill="#c0c0c0"/>
<rect x="1235" y="722" width="1" height="41" fill="#c0c0c0"/>
<rect x="1243" y="724" width="1" height="39" fill="#c0c0c0"/>
<rect x="1251" y="725" width="1" height="38" fill="#c0c0c0"/>
<rect x="1259" y="726" width="1" height="37" fill="#c0c0c0"/>
<polyline points="3.0,708.3 12.4,708.3 19.5,709.2 28.3,710.5 35.4,712.8 44.3,716.3 53.1,719.0 62.0,723.4 70.8,726.4 81.4,730.5 92.1,734.9 102.7,736.7 113.3,739.3 123.9,741.1 134.6,742.3 141.6,743.7 148.7,746.4 159.3,747.3 177.0,747.8 194.8,747.3 208.9,746.6 219.5,744.6 230.2,742.5 240.8,741.6 251.4,739.3 262.0,736.7 272.7,733.1 280.0,731.0 291.0,727.3 302.0,722.9 313.0,719.1 324.0,713.4 335.0,708.6 345.9,703.1 356.9,700.4 370.1,698.7 387.7,698.7 400.9,700.2 411.9,703.1 422.9,705.9 433.8,709.0 447.0,713.4 462.4,715.6 473.4,717.4 482.2,720.0 497.6,722.2 510.8,726.6 521.8,729.5 532.7,732.3 543.7,734.5 556.9,736.7 567.9,737.6 583.3,738.9 598.7,741.5 609.7,743.7 620.7,748.1 631.6,749.9 640.0,751.4 653.2,752.1 664.2,753.6 677.4,754.7 690.5,756.9 701.5,759.6 712.5,763.1 723.5,766.8 732.3,771.2 741.1,774.9 749.9,777.1 758.7,779.3 771.9,780.2 785.1,779.3 798.2,776.7 811.4,774.1 822.4,770.1 833.4,767.9 851.0,764.6 870.8,763.5 892.7,763.1 910.3,761.8 923.5,758.7 934.5,758.0 945.5,756.5 952.1,757.4 963.1,758.0 974.1,760.2 987.3,763.5 1000.0,767.5 1011.2,768.2 1021.9,766.8 1032.5,765.0 1041.3,762.3 1050.2,760.0 1060.8,758.3 1073.2,756.5 1083.8,755.2 1099.8,754.4 1108.6,752.9 1122.8,752.2 1131.6,751.2 1147.6,750.5 1156.4,749.1 1167.1,747.8 1177.7,746.4 1186.5,742.3 1197.2,739.3 1204.2,735.8 1211.3,732.2 1220.2,729.9 1229.0,726.9 1237.9,725.1 1246.7,722.8 1259.1,722.1" fill="none" stroke="#ff0000" stroke-width="1" stroke-dasharray="3,3"/>
</g>
<rect x="1596" y="690" width="2" height="1" fill="#000"/>
<rect x="1596" y="762" width="2" height="1" fill="#000"/>
<rect x="1596" y="790" width="2" height="1" fill="#000"/>
<text x="1599.2" y="700" font-size="10.2" fill="#000" stroke="#000" stroke-width="0.15" textLength="39" lengthAdjust="spacingAndGlyphs">0.014384</text>
<text x="1599.2" y="766.5" font-size="10.2" fill="#000" stroke="#000" stroke-width="0.15" textLength="18" lengthAdjust="spacingAndGlyphs">0.00</text>
<text x="1599.2" y="788" font-size="10.2" fill="#000" stroke="#000" stroke-width="0.15" textLength="41" lengthAdjust="spacingAndGlyphs">-0.005396</text>
<rect x="3" y="791" width="1" height="3" fill="#000"/>
<text x="2.7" y="803" font-size="10.2" fill="#000" stroke="#000" stroke-width="0.15" textLength="49.6" lengthAdjust="spacingAndGlyphs">13 Jun 2020</text>
<rect x="67" y="791" width="1" height="3" fill="#000"/>
<text x="66.7" y="803" font-size="10.2" fill="#000" stroke="#000" stroke-width="0.15" textLength="49.9" lengthAdjust="spacingAndGlyphs">23 Jun 2020</text>
<rect x="131" y="791" width="1" height="3" fill="#000"/>
<text x="130.7" y="803" font-size="10.2" fill="#000" stroke="#000" stroke-width="0.15" textLength="42.2" lengthAdjust="spacingAndGlyphs">2 Jul 2020</text>
<rect x="195" y="791" width="1" height="3" fill="#000"/>
<text x="194.7" y="803" font-size="10.2" fill="#000" stroke="#000" stroke-width="0.15" textLength="46.9" lengthAdjust="spacingAndGlyphs">11 Jul 2020</text>
<rect x="259" y="791" width="1" height="3" fill="#000"/>
<text x="258.7" y="803" font-size="10.2" fill="#000" stroke="#000" stroke-width="0.15" textLength="46.9" lengthAdjust="spacingAndGlyphs">21 Jul 2020</text>
<rect x="323" y="791" width="1" height="3" fill="#000"/>
<text x="322.7" y="803" font-size="10.2" fill="#000" stroke="#000" stroke-width="0.15" textLength="47.6" lengthAdjust="spacingAndGlyphs">30 Jul 2020</text>
<rect x="387" y="791" width="1" height="3" fill="#000"/>
<text x="386.7" y="803" font-size="10.2" fill="#000" stroke="#000" stroke-width="0.15" textLength="48.4" lengthAdjust="spacingAndGlyphs">8 Aug 2020</text>
<rect x="451" y="791" width="1" height="3" fill="#000"/>
<text x="450.7" y="803" font-size="10.2" fill="#000" stroke="#000" stroke-width="0.15" textLength="52.4" lengthAdjust="spacingAndGlyphs">18 Aug 2020</text>
<rect x="515" y="791" width="1" height="3" fill="#000"/>
<text x="514.7" y="803" font-size="10.2" fill="#000" stroke="#000" stroke-width="0.15" textLength="53.0" lengthAdjust="spacingAndGlyphs">27 Aug 2020</text>
<rect x="579" y="791" width="1" height="3" fill="#000"/>
<text x="578.7" y="803" font-size="10.2" fill="#000" stroke="#000" stroke-width="0.15" textLength="46.9" lengthAdjust="spacingAndGlyphs">5 Sep 2020</text>
<rect x="643" y="791" width="1" height="3" fill="#000"/>
<text x="642.7" y="803" font-size="10.2" fill="#000" stroke="#000" stroke-width="0.15" textLength="52.6" lengthAdjust="spacingAndGlyphs">15 Sep 2020</text>
<rect x="707" y="791" width="1" height="3" fill="#000"/>
<text x="706.7" y="803" font-size="10.2" fill="#000" stroke="#000" stroke-width="0.15" textLength="51.9" lengthAdjust="spacingAndGlyphs">24 Sep 2020</text>
<rect x="771" y="791" width="1" height="3" fill="#000"/>
<text x="770.7" y="803" font-size="10.2" fill="#000" stroke="#000" stroke-width="0.15" textLength="46.300000000000004" lengthAdjust="spacingAndGlyphs">3 Oct 2020</text>
<rect x="835" y="791" width="1" height="3" fill="#000"/>
<text x="834.7" y="803" font-size="10.2" fill="#000" stroke="#000" stroke-width="0.15" textLength="51.0" lengthAdjust="spacingAndGlyphs">13 Oct 2020</text>
<rect x="899" y="791" width="1" height="3" fill="#000"/>
<text x="898.7" y="803" font-size="10.2" fill="#000" stroke="#000" stroke-width="0.15" textLength="50.9" lengthAdjust="spacingAndGlyphs">22 Oct 2020</text>
<rect x="963" y="791" width="1" height="3" fill="#000"/>
<text x="962.7" y="803" font-size="10.2" fill="#000" stroke="#000" stroke-width="0.15" textLength="51.4" lengthAdjust="spacingAndGlyphs">31 Oct 2020</text>
<rect x="1027" y="791" width="1" height="3" fill="#000"/>
<text x="1026.7" y="803" font-size="10.2" fill="#000" stroke="#000" stroke-width="0.15" textLength="54.0" lengthAdjust="spacingAndGlyphs">10 Nov 2020</text>
<rect x="1091" y="791" width="1" height="3" fill="#000"/>
<text x="1090.7" y="803" font-size="10.2" fill="#000" stroke="#000" stroke-width="0.15" textLength="53.800000000000004" lengthAdjust="spacingAndGlyphs">19 Nov 2020</text>
<rect x="1155" y="791" width="1" height="3" fill="#000"/>
<text x="1154.7" y="803" font-size="10.2" fill="#000" stroke="#000" stroke-width="0.15" textLength="54.0" lengthAdjust="spacingAndGlyphs">28 Nov 2020</text>
<rect x="1219" y="791" width="1" height="3" fill="#000"/>
<text x="1218.7" y="803" font-size="10.2" fill="#000" stroke="#000" stroke-width="0.15" textLength="46.9" lengthAdjust="spacingAndGlyphs">8 Dec 2020</text>
<rect x="0" y="811" width="1638" height="1" fill="#e3e3e3"/>
<rect x="0" y="812" width="1638" height="26" fill="#f0f0f0"/>
<rect x="107" y="813" width="1531" height="1" fill="#000"/>
<rect x="0" y="837" width="1638" height="1" fill="#a0a0a0"/>
<rect x="0" y="838" width="1638" height="3" fill="#ffffff"/>
<rect x="5" y="812" width="102" height="19" fill="#ffffff"/>
<rect x="4" y="812" width="1" height="20" fill="#000"/>
<rect x="107" y="813" width="1" height="19" fill="#000"/>
<rect x="4" y="831" width="104" height="1" fill="#000"/>
<rect x="0" y="812" width="4" height="21" fill="#f0f0f0"/>
<text x="16.7" y="828" font-size="13" fill="#000" stroke="#000" stroke-width="0.15" textLength="79" lengthAdjust="spacingAndGlyphs">EURUSD,Daily</text>
<text x="118.6" y="828" font-size="13" fill="#555555" textLength="78.4" lengthAdjust="spacingAndGlyphs">USDCHF,Daily</text>
<text x="218.6" y="828" font-size="13" fill="#555555" textLength="79.9" lengthAdjust="spacingAndGlyphs">AUDUSD,Daily</text>
<text x="322.5" y="828" font-size="13" fill="#555555" textLength="80.5" lengthAdjust="spacingAndGlyphs">USDCAD,Daily</text>
<text x="426.4" y="828" font-size="13" fill="#555555" textLength="82.6" lengthAdjust="spacingAndGlyphs">USDCNH,Daily</text>
<text x="532" y="828" font-size="13" fill="#555555" textLength="80" lengthAdjust="spacingAndGlyphs">EURUSD,Daily</text>
<text x="636" y="828" font-size="13" fill="#555555" textLength="68" lengthAdjust="spacingAndGlyphs">GBPUSD,H4</text>
<text x="727" y="828" font-size="13" fill="#555555" textLength="69" lengthAdjust="spacingAndGlyphs">XAUUSD,H1</text>
<text x="819" y="828" font-size="13" fill="#555555" textLength="49.7" lengthAdjust="spacingAndGlyphs">HK50,H1</text>
<text x="891" y="828" font-size="13" fill="#555555" textLength="57" lengthAdjust="spacingAndGlyphs">UK100,H1</text>
<text x="971" y="828" font-size="13" fill="#555555" textLength="56.7" lengthAdjust="spacingAndGlyphs">UK100,H1</text>
<text x="1051" y="828" font-size="13" fill="#555555" textLength="56.7" lengthAdjust="spacingAndGlyphs">GER30,H1</text>
<text x="1130" y="828" font-size="13" fill="#555555" textLength="54.6" lengthAdjust="spacingAndGlyphs">FRA40,H1</text>
<text x="1206.7" y="828" font-size="13" fill="#555555" textLength="62.3" lengthAdjust="spacingAndGlyphs">USOil,Daily</text>
<text x="1290" y="828" font-size="13" fill="#555555" textLength="62" lengthAdjust="spacingAndGlyphs">USDJPY,H1</text>
<text x="1374" y="828" font-size="13" fill="#555555" textLength="58.6" lengthAdjust="spacingAndGlyphs">DJ30,Daily</text>
<text x="1454" y="828" font-size="13" fill="#555555" textLength="78" lengthAdjust="spacingAndGlyphs">CHINA300,H1</text>
<text x="1554" y="828" font-size="13" fill="#555555" textLength="49.7" lengthAdjust="spacingAndGlyphs">USOil,H1</text>
<rect x="208" y="817" width="1" height="13" fill="#6d6d6d"/>
<rect x="312" y="817" width="1" height="13" fill="#6d6d6d"/>
<rect x="416" y="817" width="1" height="13" fill="#6d6d6d"/>
<rect x="520" y="817" width="1" height="13" fill="#6d6d6d"/>
<rect x="624" y="817" width="1" height="13" fill="#6d6d6d"/>
<rect x="716" y="817" width="1" height="13" fill="#6d6d6d"/>
<rect x="808" y="817" width="1" height="13" fill="#6d6d6d"/>
<rect x="880" y="817" width="1" height="13" fill="#6d6d6d"/>
<rect x="960" y="817" width="1" height="13" fill="#6d6d6d"/>
<rect x="1040" y="817" width="1" height="13" fill="#6d6d6d"/>
<rect x="1120" y="817" width="1" height="13" fill="#6d6d6d"/>
<rect x="1197" y="817" width="1" height="13" fill="#6d6d6d"/>
<rect x="1280" y="817" width="1" height="13" fill="#6d6d6d"/>
<rect x="1364" y="817" width="1" height="13" fill="#6d6d6d"/>
<rect x="1444" y="817" width="1" height="13" fill="#6d6d6d"/>
<rect x="1544" y="817" width="1" height="13" fill="#6d6d6d"/>
<rect x="187" y="838" width="1" height="3" fill="#e6e6e6"/>
<rect x="316" y="838" width="1" height="3" fill="#e6e6e6"/>
<rect x="417" y="838" width="1" height="3" fill="#e6e6e6"/>
<rect x="547" y="838" width="1" height="3" fill="#e6e6e6"/>
<rect x="692" y="838" width="1" height="3" fill="#e6e6e6"/>
<rect x="838" y="838" width="1" height="3" fill="#e6e6e6"/>
<rect x="983" y="838" width="1" height="3" fill="#e6e6e6"/>
<rect x="1128" y="838" width="1" height="3" fill="#e6e6e6"/>
<rect x="1273" y="838" width="1" height="3" fill="#e6e6e6"/>
<rect x="1418" y="838" width="1" height="3" fill="#e6e6e6"/>
<path d="M1615,818 L1615,826 L1611,822 Z" fill="#a0a0a0"/>
<path d="M1630,818 L1630,826 L1634,822 Z" fill="#000"/>
</svg>
</body></html>
